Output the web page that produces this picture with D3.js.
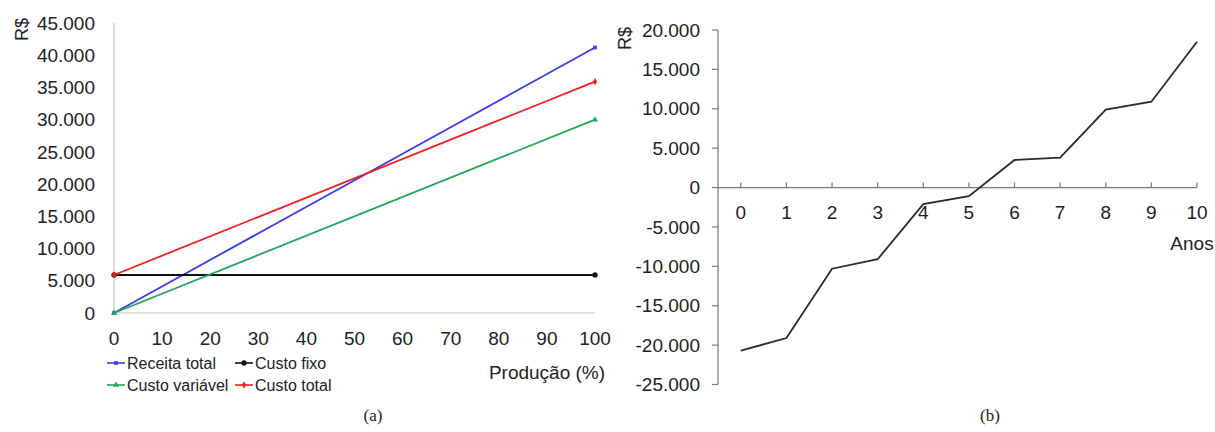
<!DOCTYPE html>
<html>
<head>
<meta charset="utf-8">
<script src="https://cdn.jsdelivr.net/npm/d3@7"></script>
<style>
  body { margin: 0; background: #fff; }
  svg { display: block; }
  text { font-family: "Liberation Sans", Arial, sans-serif; fill: #222; }
  .cap { font-family: "Liberation Serif", "Times New Roman", serif; }
</style>
</head>
<body>
<svg class="chart" width="1215" height="432"></svg>
<script>
// chart (a) - ponto de equilibrio
const producao = [0, 100];
const receitaTotal = [0, 41200];
const custoFixo = [5900, 5900];
const custoVariavel = [0, 30000];
const custoTotal = [5900, 35900];
const ticksA = [0, 5000, 10000, 15000, 20000, 25000, 30000, 35000, 40000, 45000];
const ticksProd = [0, 10, 20, 30, 40, 50, 60, 70, 80, 90, 100];

// chart (b) - fluxo de caixa acumulado
const anos = [0, 1, 2, 3, 4, 5, 6, 7, 8, 9, 10];
const fluxo = [-20700, -19100, -10300, -9100, -2100, -1100, 3500, 3800, 9900, 10900, 18500];
const ticksB = [-25000, -20000, -15000, -10000, -5000, 0, 5000, 10000, 15000, 20000];

const br = d3.formatLocale({decimal: ",", thousands: ".", grouping: [3], currency: ["R$", ""], minus: "-"});
const fmt = br.format(",.0f");

const svg = d3.select(".chart");
const fs = "19px";

// ---------- (a) ----------
const xA = d3.scaleLinear().domain([0, 100]).range([114, 595]);
const yA = d3.scaleLinear().domain([0, 45000]).range([313, 23]);

const gA = svg.append("g");

gA.append("line")
  .attr("x1", xA(0)).attr("x2", xA(0))
  .attr("y1", yA(0)).attr("y2", yA(45000))
  .attr("stroke", "#c4c4c4").attr("stroke-width", 1.2);
gA.append("line")
  .attr("x1", xA(0)).attr("x2", xA(100))
  .attr("y1", yA(0)).attr("y2", yA(0))
  .attr("stroke", "#c4c4c4").attr("stroke-width", 1.2);

gA.selectAll(".ty")
  .data(ticksA)
  .enter().append("text")
  .attr("x", 95).attr("y", d => yA(d))
  .attr("dy", "0.35em")
  .attr("text-anchor", "end")
  .style("font-size", fs)
  .text(d => fmt(d));

gA.selectAll(".tx")
  .data(ticksProd)
  .enter().append("text")
  .attr("x", d => xA(d)).attr("y", 345)
  .attr("text-anchor", "middle")
  .style("font-size", fs)
  .text(d => d);

gA.append("text")
  .attr("transform", "translate(28,41) rotate(-90)")
  .style("font-size", "18px")
  .text("R$");

gA.append("text")
  .attr("x", 547).attr("y", 379)
  .attr("text-anchor", "middle")
  .style("font-size", fs)
  .text("Produção (%)");

const series = [
  {name: "Receita total", values: receitaTotal, color: "#3a3af0", sym: d3.symbolSquare, size: 14},
  {name: "Custo fixo", values: custoFixo, color: "#111", sym: d3.symbolCircle, size: 22},
  {name: "Custo variável", values: custoVariavel, color: "#22a85a", sym: d3.symbolTriangle, size: 16},
  {name: "Custo total", values: custoTotal, color: "#ee2222", sym: d3.symbolDiamond, size: 16}
];

const lineA = d3.line()
  .x(d => xA(d[0]))
  .y(d => yA(d[1]));

series.forEach(s => {
  const pts = producao.map((p, i) => [p, s.values[i]]);
  gA.append("path")
    .attr("d", lineA(pts))
    .attr("fill", "none")
    .attr("stroke", s.color)
    .attr("stroke-width", 1.8);
  gA.selectAll(null)
    .data(pts)
    .enter().append("path")
    .attr("transform", d => "translate(" + xA(d[0]) + "," + yA(d[1]) + ")")
    .attr("d", d3.symbol().type(s.sym).size(s.size))
    .attr("fill", s.color);
});

// legend
const legPos = [[107, 363], [235, 363], [107, 385], [235, 385]];
series.forEach((s, i) => {
  const [lx, ly] = legPos[i];
  const lg = gA.append("g").attr("transform", "translate(" + lx + "," + ly + ")");
  lg.append("line").attr("x1", 0).attr("x2", 18).attr("y1", 0).attr("y2", 0)
    .attr("stroke", s.color).attr("stroke-width", 1.6);
  lg.append("path").attr("transform", "translate(9,0)")
    .attr("d", d3.symbol().type(s.sym).size(s.size)).attr("fill", s.color);
  lg.append("text").attr("x", 20).attr("y", 0).attr("dy", "0.35em")
    .style("font-size", "16px").text(s.name);
});

svg.append("text").attr("class", "cap")
  .attr("x", 373).attr("y", 421)
  .attr("text-anchor", "middle")
  .style("font-size", "17px")
  .text("(a)");

// ---------- (b) ----------
const xB = d3.scaleLinear().domain([-0.5, 10]).range([718, 1197]);
const yB = d3.scaleLinear().domain([-25000, 20000]).range([384.5, 30]);
const gB = svg.append("g");
const axCol = "#7a7a7a";

gB.append("line")
  .attr("x1", xB(-0.5)).attr("x2", xB(-0.5))
  .attr("y1", yB(-25000)).attr("y2", yB(20000))
  .attr("stroke", axCol).attr("stroke-width", 1.2);
gB.selectAll(".tky")
  .data(ticksB)
  .enter().append("line")
  .attr("x1", xB(-0.5) - 6).attr("x2", xB(-0.5))
  .attr("y1", d => yB(d)).attr("y2", d => yB(d))
  .attr("stroke", axCol).attr("stroke-width", 1.2);
gB.selectAll(".tly")
  .data(ticksB)
  .enter().append("text")
  .attr("x", 700).attr("y", d => yB(d))
  .attr("dy", "0.35em")
  .attr("text-anchor", "end")
  .style("font-size", fs)
  .text(d => fmt(d));

gB.append("line")
  .attr("x1", xB(-0.5)).attr("x2", xB(10))
  .attr("y1", yB(0)).attr("y2", yB(0))
  .attr("stroke", axCol).attr("stroke-width", 1.2);
gB.selectAll(".tkx")
  .data(anos)
  .enter().append("line")
  .attr("x1", d => xB(d)).attr("x2", d => xB(d))
  .attr("y1", yB(0) - 5).attr("y2", yB(0))
  .attr("stroke", axCol).attr("stroke-width", 1.2);
gB.selectAll(".tlx")
  .data(anos)
  .enter().append("text")
  .attr("x", d => xB(d)).attr("y", 219)
  .attr("text-anchor", "middle")
  .style("font-size", fs)
  .text(d => d);

gB.append("path")
  .datum(anos.map((a, i) => [a, fluxo[i]]))
  .attr("d", d3.line().x(d => xB(d[0])).y(d => yB(d[1])))
  .attr("fill", "none")
  .attr("stroke", "#2a2a2a")
  .attr("stroke-width", 1.8);

gB.append("text")
  .attr("transform", "translate(631,50) rotate(-90)")
  .style("font-size", "18px")
  .text("R$");

gB.append("text")
  .attr("x", 1192).attr("y", 250)
  .attr("text-anchor", "middle")
  .style("font-size", fs)
  .text("Anos");

svg.append("text").attr("class", "cap")
  .attr("x", 990).attr("y", 421)
  .attr("text-anchor", "middle")
  .style("font-size", "17px")
  .text("(b)");
</script>
</body>
</html>
